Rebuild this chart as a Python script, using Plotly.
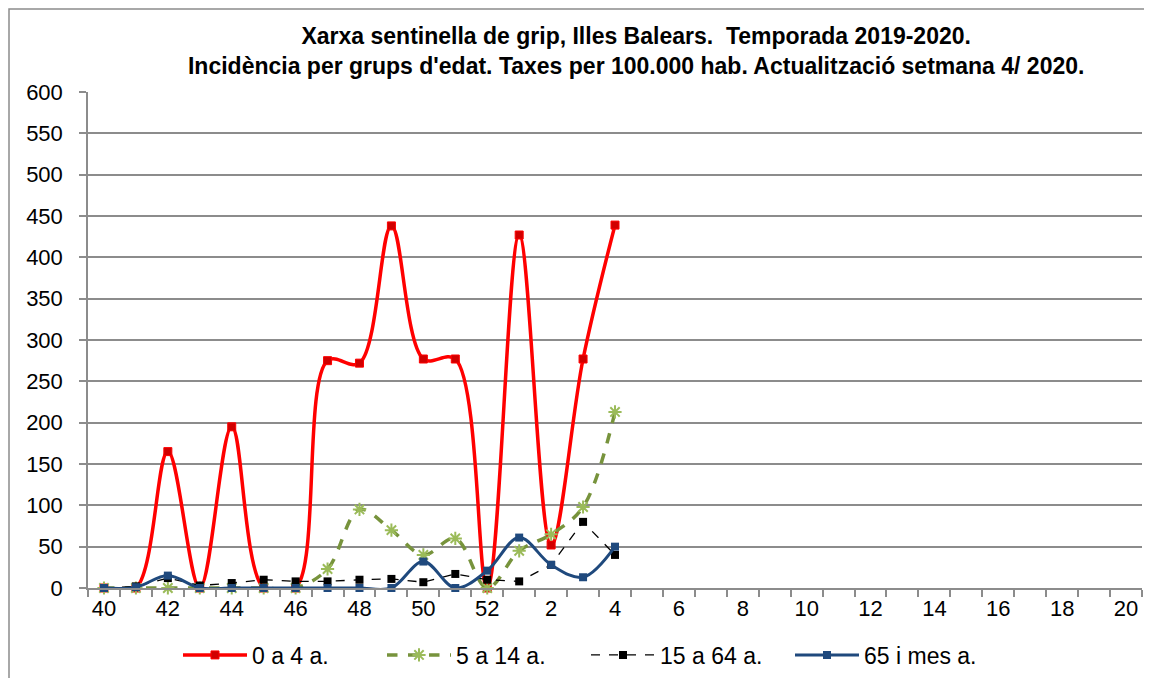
import plotly.graph_objects as go

weeks = [str(w) for w in range(40, 53)] + [str(w) for w in range(1, 21)]
data_weeks = weeks[:17]

s_0_4 = [0, 0, 165, 0, 195, 0, 0, 275, 272, 438, 277, 277, 0, 427, 52, 277, 439]
s_5_14 = [0, 0, 0, 0, 0, 0, 0, 23, 95, 70, 40, 60, 0, 45, 65, 98, 213]
s_15_64 = [0, 2, 12, 3, 6, 10, 8, 8, 10, 11, 7, 17, 10, 8, 28, 80, 40]
s_65 = [0, 1, 15, 0, 0, 0, 0, 0, 0, 0, 32, 0, 21, 61, 28, 13, 50]

names = ["0 a 4 a.", "5 a 14 a.", "15 a 64 a.", "65 i mes a."]
y_ticks = list(range(0, 601, 50))

fig = go.Figure()
fig.add_trace(go.Scatter(
    x=data_weeks, y=s_0_4, name=names[0], mode="lines+markers",
    line=dict(color="#FF0000", width=3.5, shape="spline", smoothing=1.0),
    marker=dict(symbol="square", size=8, color="#D00000", line=dict(color="#FF0000", width=1)),
    cliponaxis=False))
fig.add_trace(go.Scatter(
    x=data_weeks, y=s_5_14, name=names[1], mode="lines+markers",
    line=dict(color="#77933C", width=3.5, dash="dash", shape="spline", smoothing=1.0),
    marker=dict(symbol="asterisk", size=11, color="#9BBB59", line=dict(color="#9BBB59", width=2)),
    cliponaxis=False))
fig.add_trace(go.Scatter(
    x=data_weeks, y=s_15_64, name=names[2], mode="lines+markers",
    line=dict(color="#000000", width=1.3, dash="dash"),
    marker=dict(symbol="square", size=8, color="#000000"),
    cliponaxis=False))
fig.add_trace(go.Scatter(
    x=data_weeks, y=s_65, name=names[3], mode="lines+markers",
    line=dict(color="#1F497D", width=3, shape="spline", smoothing=1.0),
    marker=dict(symbol="square", size=8, color="#1F497D"),
    cliponaxis=False))

grid = "#8C8C8C"
W, H = 1136, 670
L, R, T, B = 80, 2, 84, 90
pw, ph = W - L - R, H - T - B

fig.update_layout(
    width=W, height=H,
    margin=dict(l=L, r=R, t=T, b=B, autoexpand=False),
    paper_bgcolor="white", plot_bgcolor="white",
    font=dict(family="Liberation Sans, Arial, sans-serif", size=22, color="black"),
    title=dict(
        text="<b>Xarxa sentinella de grip, Illes Balears.  Temporada 2019-2020.</b><br>"
             "<b>Incidència per grups d'edat. Taxes per 100.000 hab. Actualització setmana 4/ 2020.</b>",
        x=0.553, xanchor="center", xref="container",
        y=0.946, yanchor="middle", yref="container",
        font=dict(family="Liberation Sans, Arial, sans-serif", size=23, color="black")),
    showlegend=True,
    legend=dict(orientation="h", x=(170 - L) / pw, xanchor="left", y=-0.135, yanchor="middle",
                font=dict(family="Liberation Sans, Arial, sans-serif", size=23),
                itemwidth=64, entrywidth=125, entrywidthmode="pixels", traceorder="normal"),
    xaxis=dict(
        type="category", categoryorder="array", categoryarray=weeks,
        range=[-0.5, len(weeks) - 0.5],
        tickmode="array", tickvals=weeks,
        ticktext=[w if i % 2 == 0 else "" for i, w in enumerate(weeks)],
        tickangle=0,
        tickson="boundaries", ticks="outside", ticklen=7, tickwidth=1.5, tickcolor=grid,
        showline=True, linecolor=grid, linewidth=1.5, showgrid=False, zeroline=False,
        tickfont=dict(size=22)),
    yaxis=dict(
        range=[0, 600], tickmode="array", tickvals=y_ticks,
        ticks="outside", ticklen=7, tickwidth=1.5, tickcolor=grid,
        showline=True, linecolor=grid, linewidth=1.5,
        showgrid=True, gridcolor=grid, gridwidth=1.5, zeroline=False,
        ticklabelstandoff=12, tickfont=dict(size=22)),
)

fig.add_shape(type="rect", xref="paper", yref="paper",
              x0=(1 - L) / pw, x1=1.2, y0=-0.4, y1=(ph + T - 1) / ph,
              line=dict(color="#8C8C8C", width=1.5), fillcolor="rgba(0,0,0,0)", layer="below")

fig.write_html("out.html")
